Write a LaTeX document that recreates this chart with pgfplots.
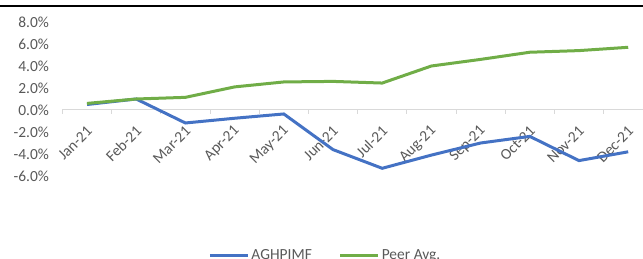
\documentclass[border=0pt]{standalone}
\usepackage{pgfplots}
\pgfplotsset{compat=1.18}
\usepackage{fontspec}
\setmainfont{Carlito}
\definecolor{bl}{HTML}{4472C4}
\definecolor{gr}{HTML}{70AD47}
\definecolor{tx}{HTML}{595959}
\definecolor{ax}{HTML}{D9D9D9}
\begin{document}
\begin{tikzpicture}
\begin{axis}[
 at={(87bp,149bp)}, anchor=origin,
 x=49.2bp, y=11bp,
 xmin=-0.5, xmax=11.3, ymin=-6, ymax=8,
 axis x line=middle, axis y line=left,
 hide obscured x ticks=false, hide obscured y ticks=false,
 x axis line style={-, draw=ax, line width=1bp},
 y axis line style={draw=none},
 xtick={0,...,11},
 xticklabels={Jan-21,Feb-21,Mar-21,Apr-21,May-21,Jun-21,Jul-21,Aug-21,Sep-21,Oct-21,Nov-21,Dec-21},
 minor xtick={-0.5,0.5,...,10.5},
 major tick length=0pt, minor tick length=4bp,
 xtick align=outside,
 minor tick style={draw=ax, line width=1bp},
 ytick={-6,-4,...,8},
 ytick style={draw=none},
 /pgf/number format/assume math mode=true,
 yticklabel={\pgfmathprintnumber[fixed,fixed zerofill,precision=1]{\tick}\%},
 yticklabel style={font=\fontsize{15.5}{18}\selectfont, text=tx, xshift=-10bp},
 xticklabel style={font=\fontsize{15.5}{18}\selectfont, text=tx, xshift=5bp, yshift=-16bp, rotate=45, anchor=east},
 legend style={at={(0.453,-0.513)}, anchor=center, draw=none, fill=none, legend columns=-1,
   font=\fontsize{15.5}{18}\selectfont, text=tx,
   /tikz/every even column/.append style={column sep=25bp}},
 legend image code/.code={\draw[#1, line width=3bp] (0bp,0bp) -- (38bp,0bp);},
]
\addplot[bl, line width=3bp, no marks] coordinates {
(0,0.5) (1,1.0) (2,-1.18) (3,-0.75) (4,-0.36) (5,-3.6) (6,-5.3) (7,-4.1) (8,-3.0) (9,-2.4) (10,-4.6) (11,-3.8)};
\addlegendentry{AGHPIMF}
\addplot[gr, line width=3bp, no marks] coordinates {
(0,0.6) (1,1.0) (2,1.15) (3,2.1) (4,2.55) (5,2.6) (6,2.45) (7,4.0) (8,4.6) (9,5.25) (10,5.4) (11,5.7)};
\addlegendentry{Peer Avg.}
\end{axis}
\fill[black] (0,251.5bp) rectangle (643bp,254bp);
\pgfresetboundingbox
\path[use as bounding box] (0,0) rectangle (643bp,259bp);
\end{tikzpicture}
\end{document}
